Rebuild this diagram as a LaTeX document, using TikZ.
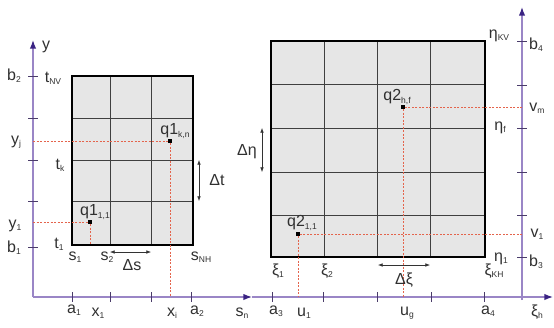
\documentclass[tikz,border=0pt]{standalone}
\usepackage{fontspec}
\setmainfont{Liberation Sans}
\usepackage{xcolor}
\definecolor{cAxis}{HTML}{9A86C6}
\definecolor{cTip}{HTML}{3A2383}
\definecolor{cTick}{HTML}{4A3C6A}
\definecolor{cFill}{HTML}{E6E6E6}
\definecolor{cDot}{HTML}{E4644C}
\definecolor{cText}{HTML}{303030}
\usetikzlibrary{arrows.meta}
\newcommand{\idx}[2]{#1{\fontsize{8.5}{9}\selectfont\raisebox{-0.5ex}{#2}}}
\tikzset{
  axis-line/.style={draw=cAxis,line width=1.1pt,-{Latex[length=3mm,width=2.2mm,color=cTip]}},
  axis-tick/.style={draw=cTick,line width=0.8pt},
  mesh-box/.style={draw=black,line width=1.6pt,fill=cFill},
  mesh-line/.style={draw=black!75,line width=0.7pt},
  guide-line/.style={draw=cDot,line width=0.7pt,dash pattern=on 2pt off 1.5pt},
  delta-arrow/.style={{Latex[length=1.6mm,width=1.2mm]}-{Latex[length=1.6mm,width=1.2mm]},line width=0.5pt,draw=black!80},
  node-point/.style={fill=black,minimum size=4pt,inner sep=0pt},
  lbl/.style={font=\fontsize{16}{18}\selectfont,text=cText,inner sep=1pt},
}
\begin{document}
\begin{tikzpicture}[x=1pt,y=-1pt]
  \useasboundingbox (0,0) rectangle (554,327);
  % axes
  \coordinate (o1)   at (33,297);
  \coordinate (yend) at (33,40);
  \coordinate (snend) at (252,297);
  \coordinate (xiend) at (553,297);
  \coordinate (o2)   at (522,300);
  \coordinate (vend) at (522,7);
  \draw[axis-line] (o1) -- (yend);
  \draw[axis-line] (o1) -- (snend);
  \draw[axis-line] (snend) -- (xiend);
  \draw[axis-line] (o2) -- (vend);
  \foreach \y in {76,118,160,201,247} \draw[axis-tick] (28,\y) -- (38,\y);
  \foreach \y in {41,85,128,172,215,257} \draw[axis-tick] (517,\y) -- (527,\y);
  \foreach \x in {72,110,151,191,272,323,377,431,484} \draw[axis-tick] (\x,292) -- (\x,302);
  % mesh 1
  \draw[mesh-box] (72,76) rectangle (193,245);
  \foreach \x in {110,151} \draw[mesh-line] (\x,76) -- (\x,245);
  \foreach \y in {118,160,201} \draw[mesh-line] (72,\y) -- (193,\y);
  \draw[mesh-box,fill=none] (72,76) rectangle (193,245);
  % mesh 2
  \draw[mesh-box] (271,41) rectangle (485,257);
  \foreach \x in {324,377,430} \draw[mesh-line] (\x,41) -- (\x,257);
  \foreach \y in {84,128,172,215} \draw[mesh-line] (271,\y) -- (485,\y);
  \draw[mesh-box,fill=none] (271,41) rectangle (485,257);
  % points
  \node[node-point] (qkn) at (170,141) {};
  \node[node-point] (q11) at (90,222) {};
  \node[node-point] (qhf) at (403,107) {};
  \node[node-point] (p11) at (298,234) {};
  \coordinate (yj)  at (33,141);  \coordinate (xi) at (170,297);
  \coordinate (y1)  at (33,222);  \coordinate (s1b) at (90,245);
  \coordinate (vm)  at (522,107); \coordinate (ug) at (403,297);
  \coordinate (v1)  at (522,234); \coordinate (u1) at (298,297);
  \draw[guide-line] (yj) -- (qkn) -- (xi);
  \draw[guide-line] (y1) -- (q11) -- (s1b);
  \draw[guide-line] (vm) -- (qhf) -- (ug);
  \draw[guide-line] (v1) -- (p11) -- (u1);
  % steps
  \coordinate (dt1) at (199,160); \coordinate (dt2) at (199,201);
  \coordinate (ds1) at (110,252); \coordinate (ds2) at (151,252);
  \coordinate (de1) at (262,128); \coordinate (de2) at (262,172);
  \coordinate (dx1) at (378,265); \coordinate (dx2) at (430,265);
  \draw[delta-arrow] (dt1) -- (dt2);
  \draw[delta-arrow] (ds1) -- (ds2);
  \draw[delta-arrow] (de1) -- (de2);
  \draw[delta-arrow] (dx1) -- (dx2);
  % labels, left
  \node[lbl] (ly)   at (46,47)  {y};
  \node[lbl] (lb2)  at (14,76)  {\idx{b}{2}};
  \node[lbl] (ltnv) at (53,78)  {\idx{t}{NV}};
  \node[lbl] (lyj)  at (16,142) {\idx{y}{j}};
  \node[lbl] (lqkn) at (175,131){\idx{q1}{k,n}};
  \node[lbl] (ltk)  at (60,165) {\idx{t}{k}};
  \node[lbl] (ldt)  at (217,180){Δt};
  \node[lbl] (lq11) at (95,212) {\idx{q1}{1,1}};
  \node[lbl] (ly1)  at (15,226) {\idx{y}{1}};
  \node[lbl] (lb1)  at (14,248) {\idx{b}{1}};
  \node[lbl] (lt1)  at (59,244) {\idx{t}{1}};
  \node[lbl] (ls1)  at (75,257) {\idx{s}{1}};
  \node[lbl] (ls2)  at (107,257){\idx{s}{2}};
  \node[lbl] (lds)  at (132,265){Δs};
  \node[lbl] (lsnh) at (201,257){\idx{s}{NH}};
  % labels, bottom
  \node[lbl] (la1)  at (74,310) {\idx{a}{1}};
  \node[lbl] (lx1)  at (98,313) {\idx{x}{1}};
  \node[lbl] (lxi)  at (172,313){\idx{x}{i}};
  \node[lbl] (la2)  at (197,311){\idx{a}{2}};
  \node[lbl] (lsn)  at (242,313){\idx{s}{n}};
  \node[lbl] (la3)  at (276,311){\idx{a}{3}};
  \node[lbl] (lu1)  at (304,313){\idx{u}{1}};
  \node[lbl] (lug)  at (407,313){\idx{u}{g}};
  \node[lbl] (la4)  at (488,311){\idx{a}{4}};
  \node[lbl] (lxih) at (537,312){\idx{ξ}{h}};
  % labels, right
  \node[lbl] (letk) at (499,36) {\idx{η}{KV}};
  \node[lbl] (lb4)  at (536,45) {\idx{b}{4}};
  \node[lbl] (lqhf) at (397,97) {\idx{q2}{h,f}};
  \node[lbl] (lvm)  at (537,108){\idx{v}{m}};
  \node[lbl] (letf) at (500,128){\idx{η}{f}};
  \node[lbl] (lde)  at (247,152){Δη};
  \node[lbl] (lp11) at (302,223){\idx{q2}{1,1}};
  \node[lbl] (lv1)  at (537,234){\idx{v}{1}};
  \node[lbl] (let1) at (501,259){\idx{η}{1}};
  \node[lbl] (lb3)  at (536,262){\idx{b}{3}};
  \node[lbl] (lxi1) at (278,271){\idx{ξ}{1}};
  \node[lbl] (lxi2) at (327,271){\idx{ξ}{2}};
  \node[lbl] (ldx)  at (404,280){Δξ};
  \node[lbl] (lxkh) at (494,271){\idx{ξ}{KH}};
\end{tikzpicture}
\end{document}
